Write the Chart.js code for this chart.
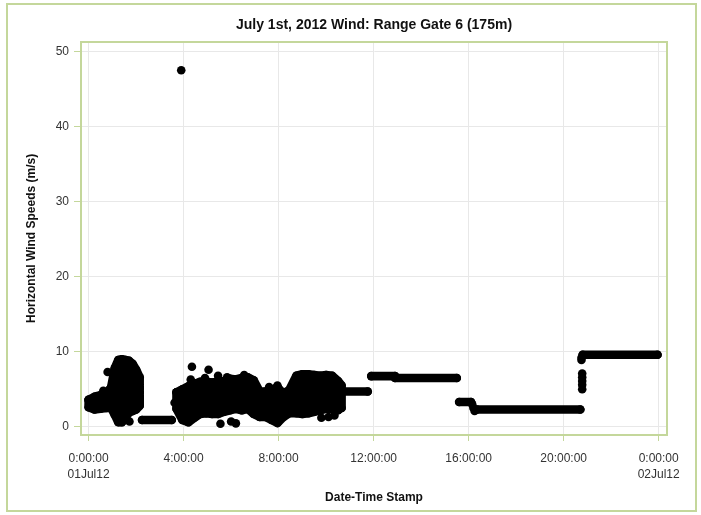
<!DOCTYPE html>
<html><head><meta charset="utf-8">
<script src="https://cdn.jsdelivr.net/npm/chart.js@4/dist/chart.umd.min.js"></script>
<style>html,body{margin:0;padding:0;background:#fff}#wrap{width:701px;height:515px;position:relative}</style>
</head><body><div id="wrap"><canvas id="c" width="701" height="515"></canvas></div>
<script>
// ---- data (hours since 01Jul12 0:00, wind speed m/s) ----
const xTickHours = [0, 4, 8, 12, 16, 20, 24];
const xTickLabels = [["0:00:00", "01Jul12"], "4:00:00", "8:00:00", "12:00:00", "16:00:00", "20:00:00", ["0:00:00", "02Jul12"]];
const yTickValues = [0, 10, 20, 30, 40, 50];

// dense scatter cloud 1 (upper / lower extent of the points)
const cluster1Hours = [0.0, 0.25, 0.5, 0.75, 0.95, 1.1, 1.25, 1.4, 1.55, 1.7, 1.85, 2.0, 2.15];
const cluster1High  = [3.6, 4.0, 4.2, 4.4, 5.3, 7.8, 8.9, 9.0, 8.9, 8.8, 8.4, 7.6, 6.6];
const cluster1Low   = [2.6, 2.3, 2.4, 2.5, 2.5, 1.6, 0.6, 0.6, 1.2, 1.9, 2.1, 2.3, 2.8];

// dense scatter cloud 2
const cluster2Hours = [3.7, 3.95, 4.2, 4.45, 4.7, 4.95, 5.2, 5.45, 5.7, 5.95, 6.2, 6.45, 6.7, 6.95, 7.2, 7.45, 7.7, 7.95, 8.2, 8.45, 8.75, 9.0, 9.25, 9.5, 9.75, 10.0, 10.25, 10.5, 10.65];
const cluster2High  = [4.6, 5.0, 5.4, 5.7, 6.0, 6.0, 5.9, 6.0, 6.1, 6.4, 6.3, 6.5, 6.6, 6.2, 4.7, 4.7, 4.8, 5.3, 4.4, 4.9, 6.8, 7.0, 7.0, 6.9, 6.8, 6.9, 6.8, 6.1, 5.5];
const cluster2Low   = [2.4, 0.9, 0.6, 1.2, 1.7, 1.8, 1.7, 1.7, 2.0, 2.2, 2.4, 2.2, 2.4, 1.7, 1.3, 1.3, 0.9, 0.5, 1.3, 1.8, 1.8, 1.7, 1.8, 2.0, 2.2, 2.4, 2.4, 2.2, 2.5];

// runs of constant readings
const runStart = [2.25, 10.65, 11.9, 12.9, 15.6, 16.35, 20.8];
const runEnd   = [3.5, 11.75, 12.9, 15.5, 16.1, 20.7, 23.95];
const runSpeed = [0.9, 4.7, 6.75, 6.5, 3.3, 2.3, 9.6];

// individual points
const pointHours  = [0.62, 0.8, 1.72, 3.62, 4.3, 4.35, 4.9, 5.05, 5.45, 5.83, 6.55, 5.55, 6.0, 6.2, 7.6, 7.95, 9.8, 10.1, 10.35, 16.15, 16.2, 16.25, 20.75, 20.75, 20.78, 20.78, 20.78, 20.78, 20.78, 3.9];
const pointSpeeds = [4.8, 7.3, 0.7, 3.2, 6.3, 8.0, 6.5, 7.6, 6.8, 6.6, 6.9, 0.4, 0.7, 0.45, 5.3, 5.5, 1.2, 1.3, 1.5, 3.0, 2.5, 2.1, 9.2, 8.9, 7.1, 6.6, 6.1, 5.6, 5.0, 47.5];

// ---- build datasets ----
const R = 4.3;
function cloud(hours, high, low) {
  const pts = [];
  for (let i = 0; i < hours.length; i++) pts.push({x: hours[i], y: high[i]});
  for (let i = hours.length - 1; i >= 0; i--) pts.push({x: hours[i], y: low[i]});
  pts.push({x: hours[0], y: high[0]});
  return {data: pts, showLine: true, fill: 'shape', backgroundColor: '#000', borderColor: '#000',
          borderWidth: 2 * R, borderJoinStyle: 'round', borderCapStyle: 'round', pointRadius: R,
          pointBackgroundColor: '#000', pointBorderWidth: 0, tension: 0};
}
const datasets = [cloud(cluster1Hours, cluster1High, cluster1Low), cloud(cluster2Hours, cluster2High, cluster2Low)];
for (let i = 0; i < runStart.length; i++) {
  datasets.push({data: [{x: runStart[i], y: runSpeed[i]}, {x: runEnd[i], y: runSpeed[i]}], showLine: true,
    borderColor: '#000', borderWidth: 2 * R, borderCapStyle: 'round', pointRadius: R,
    pointBackgroundColor: '#000', pointBorderWidth: 0, fill: false});
}
datasets.push({data: pointHours.map((h, i) => ({x: h, y: pointSpeeds[i]})), showLine: false,
  pointRadius: R, pointBackgroundColor: '#000', pointBorderWidth: 0});

const frameGreen = '#c4d79b';
const framePlugin = {
  id: 'frame',
  afterDraw(chart) {
    const {ctx, chartArea: a} = chart;
    ctx.save();
    ctx.strokeStyle = frameGreen;
    ctx.lineWidth = 2;
    ctx.strokeRect(Math.round(a.left), Math.round(a.top), Math.round(a.right - a.left), Math.round(a.bottom - a.top));
    ctx.strokeRect(7, 4, 689, 507);
    ctx.restore();
  }
};

const tickFont = {family: "'Liberation Sans', Arial, sans-serif", size: 12, lineHeight: 1.3};
const titleFont = {family: "'Liberation Sans', Arial, sans-serif", size: 12, weight: 'bold'};

new Chart(document.getElementById('c'), {
  type: 'scatter',
  data: {datasets},
  plugins: [framePlugin],
  options: {
    responsive: false, animation: false, devicePixelRatio: 1,
    layout: {padding: {left: 0, right: 34, top: 0, bottom: 0}},
    plugins: {
      legend: {display: false}, tooltip: {enabled: false},
      title: {display: true, fullSize: false, text: 'July 1st, 2012 Wind: Range Gate 6 (175m)', color: '#111',
        font: {family: "'Liberation Sans', Arial, sans-serif", size: 14, weight: 'bold'}, padding: {top: 17, bottom: 8}}
    },
    scales: {
      x: {
        type: 'linear', min: -0.32, max: 24.35,
        afterBuildTicks: s => { s.ticks = xTickHours.map(v => ({value: v})); },
        afterFit: s => { s.height = 80; },
        ticks: {autoSkip: false, maxRotation: 0, color: '#333', font: tickFont, padding: 10,
          callback: (v, i) => xTickLabels[i]},
        grid: {color: '#e8e8e8', tickColor: frameGreen, tickLength: 6, drawTicks: true},
        border: {color: frameGreen, width: 2},
        title: {display: true, text: 'Date-Time Stamp', color: '#111', font: titleFont, padding: {top: 4, bottom: 10}}
      },
      y: {
        type: 'linear', min: -1.1, max: 51.3,
        afterBuildTicks: s => { s.ticks = yTickValues.map(v => ({value: v})); },
        afterFit: s => { s.width = 81; },
        ticks: {color: '#333', font: tickFont, padding: 5},
        grid: {color: '#e8e8e8', tickColor: frameGreen, tickLength: 7, drawTicks: true},
        border: {color: frameGreen, width: 2},
        title: {display: true, text: 'Horizontal Wind Speeds (m/s)', color: '#111', font: titleFont, padding: {top: 24, bottom: 4}}
      }
    }
  }
});
</script></body></html>
